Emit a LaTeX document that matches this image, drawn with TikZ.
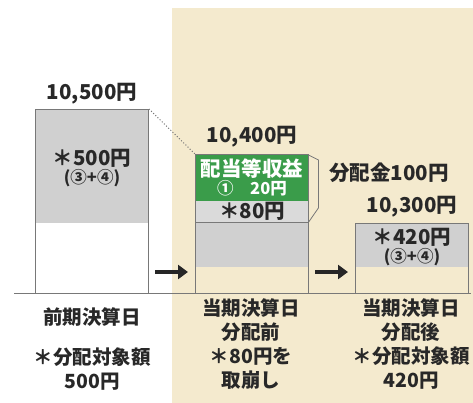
\documentclass[tikz,border=0pt]{standalone}
\usepackage{fontspec}
\setmainfont{Noto Sans CJK JP}
\usepackage{tikz}
\usetikzlibrary{arrows.meta,positioning}
\definecolor{jpbeige}{RGB}{244,234,206}
\definecolor{jpgray}{RGB}{208,208,208}
\definecolor{jplightgray}{RGB}{218,218,218}
\definecolor{jpline}{RGB}{120,120,120}
\definecolor{jpgreen}{RGB}{58,156,74}
\definecolor{jptext}{RGB}{40,40,40}
\tikzstyle{colbox} = [rectangle, draw=jpline, line width=1pt, minimum width=113pt, anchor=north west, inner sep=0pt]
\tikzstyle{fillbox} = [rectangle, minimum width=113pt, anchor=north west, inner sep=0pt]
\tikzstyle{amount} = [font=\fontsize{20.5}{22}\selectfont\bfseries, text=jptext, inner sep=1pt]
\tikzstyle{small} = [font=\fontsize{16.5}{17}\selectfont\bfseries, text=jptext, inner sep=1pt]
\tikzstyle{label} = [font=\fontsize{19.5}{24}\selectfont\bfseries, text=jptext, align=center, inner sep=1pt]
\tikzstyle{bigarrow} = [line width=4pt, -{Triangle[length=10pt,width=14pt]}, color=black!85]

\begin{document}
\begin{tikzpicture}[x=1pt, y=-1pt]
\useasboundingbox (0,0) rectangle (473,403);
% Current period background
\fill[jpbeige] (172,8) rectangle (473,403);

% Previous settlement
\node[fillbox, fill=jpgray, minimum height=114pt] (g1) at (35,109) {};
\node[colbox, minimum height=184pt] (b1) at (35,109) {};

% Current settlement, before distribution
\node[fillbox, fill=jpgreen, minimum height=47pt] (inc) at (195,154) {};
\node[fillbox, fill=jplightgray, minimum height=21pt] (res) at (195,201) {};
\node[fillbox, fill=jpgray, minimum height=45pt] (g2) at (195,222) {};
\node[colbox, minimum height=139pt] (b2) at (195,154) {};
\draw[jpline, line width=0.8pt] (g2.north west) -- (g2.north east);

% Current settlement, after distribution
\node[fillbox, fill=jpgray, minimum height=44pt] (g3) at (355,223) {};
\node[colbox, minimum height=70pt] (b3) at (355,223) {};

% Base line
\coordinate (base0) at (14,293);
\coordinate (base1) at (471,293);
\draw[jpline, line width=1pt] (base0) -- (base1);

% Values
\node[amount] (v1) at (92,94) {10,500円};
\node[amount] (a1) at (92,158) {＊500円};
\node[small] (s1) at (92,178) {(③+④)};
\node[amount] (v2) at (252,137) {10,400円};
\node[amount, text=white] (i1) at (252,169) {配当等収益};
\node[small, text=white] (i2) at (252,188) {①\quad 20円};
\node[amount] (a2) at (252,211) {＊80円};
\node[amount] (dist) at (389,173) {分配金100円};
\node[amount] (v3) at (412,207) {10,300円};
\node[amount] (a3) at (412,237) {＊420円};
\node[small] (s3) at (412,257) {(③+④)};

% Dotted guide and bracket
\draw[jpline, dotted, line width=1pt] (b1.north east) -- (b2.north west);
\draw[jpline, line width=0.8pt] ([yshift=-1pt]inc.north east) -- ++(10,5) -- ++(0,48) -- (res.south east);

% Arrows
\coordinate (arr1s) at (155,272);
\coordinate (arr1e) at (188,272);
\coordinate (arr2s) at (315,272);
\coordinate (arr2e) at (348,272);
\draw[bigarrow] (arr1s) -- (arr1e);
\draw[bigarrow] (arr2s) -- (arr2e);

% Column labels
\node[label] (l1) at (92,317) {前期決算日};
\node[label] (l1b) at (92,369) {＊分配対象額\\500円};
\node[label] (l2) at (251,344) {当期決算日\\分配前\\＊80円を\\取崩し};
\node[label] (l3) at (411,344) {当期決算日\\分配後\\＊分配対象額\\420円};
\end{tikzpicture}
\end{document}
